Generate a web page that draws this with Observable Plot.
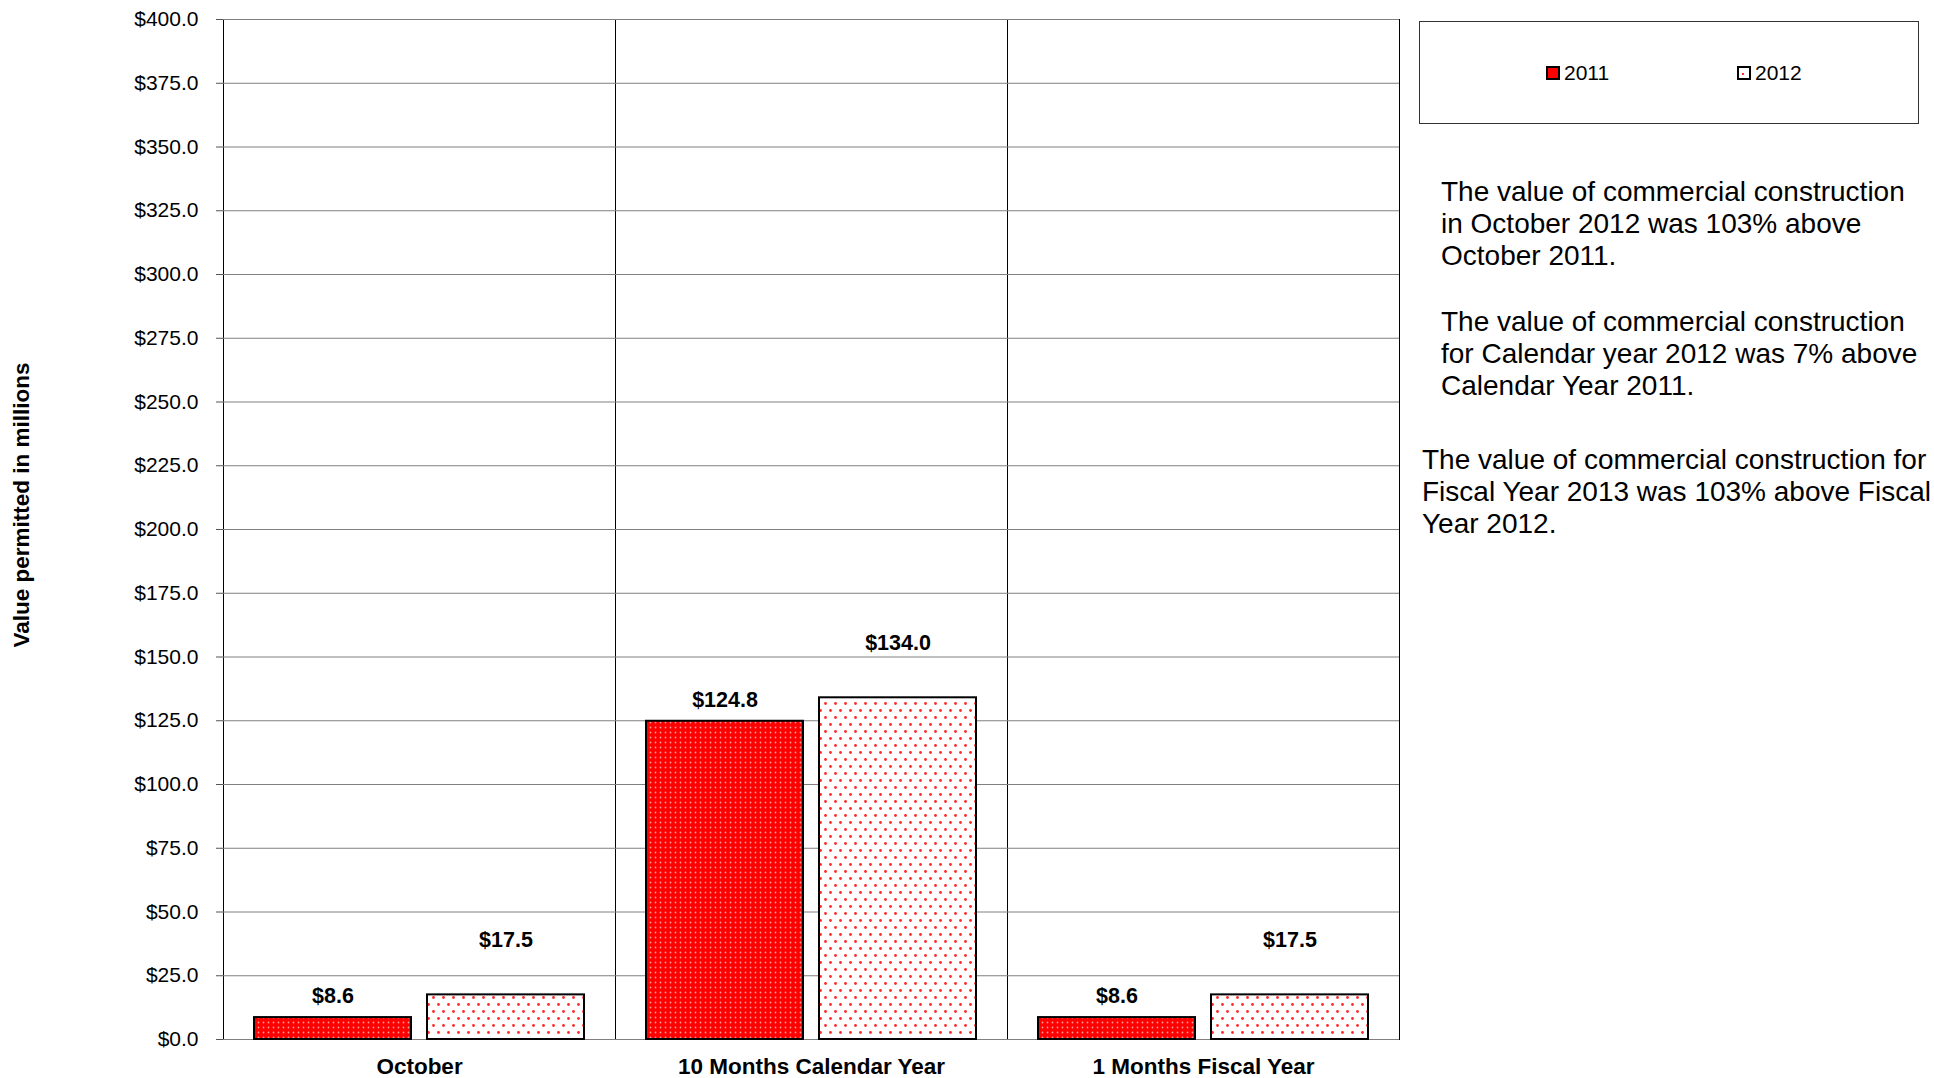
<!DOCTYPE html>
<html>
<head>
<meta charset="utf-8">
<script src="https://cdn.jsdelivr.net/npm/d3@7"></script>
<script src="https://cdn.jsdelivr.net/npm/@observablehq/plot@0.6"></script>
<style>
  body { margin: 0; background: #fff; font-family: "Liberation Sans", Arial, sans-serif; }
  #wrap { position: relative; width: 1934px; height: 1078px; overflow: hidden; }
  #chart { position: absolute; left: 0; top: 0; }
  #legend { position: absolute; left: 1419px; top: 21px; width: 498px; height: 101px; border: 1px solid #333; background: #fff; }
  .item { position: absolute; top: 38px; font-size: 21px; line-height: 26px; color: #000; display: flex; align-items: center; }
  .sw { width: 10px; height: 10px; border: 2px solid #000; margin-right: 4px; }
  .note { position: absolute; font-size: 28px; line-height: 32px; color: #000; white-space: nowrap; }
  #ylabel { position: absolute; left: 22px; top: 505px; transform: translate(-50%, -50%) rotate(-90deg); white-space: nowrap; font-size: 22.5px; font-weight: bold; color: #000; }
</style>
</head>
<body>
<div id="wrap">
  <div id="chart"></div>
  <div id="legend"></div>
  <div id="ylabel"></div>
</div>
<script>
// ---- data ----
const categories = ["October", "10 Months Calendar Year", "1 Months Fiscal Year"];
const years = ["2011", "2012"];
const values2011 = [8.6, 124.8, 8.6];
const values2012 = [17.5, 134.0, 17.5];
const yTicks = [0, 25, 50, 75, 100, 125, 150, 175, 200, 225, 250, 275, 300, 325, 350, 375, 400];
const yLabel = "Value permitted in millions";
const notes = [
  ["The value of commercial construction", "in October 2012 was 103% above", "October 2011."],
  ["The value of commercial construction", "for Calendar year 2012 was 7% above", "Calendar Year 2011."],
  ["The value of commercial construction for", "Fiscal Year 2013 was 103% above Fiscal", "Year 2012."]
];

const rows2011 = categories.map((c, i) => ({cat: c, year: years[0], value: values2011[i]}));
const rows2012 = categories.map((c, i) => ({cat: c, year: years[1], value: values2012[i]}));
const fmt = v => "$" + v.toFixed(1);

const chart = Plot.plot({
  width: 1410,
  height: 1078,
  marginLeft: 222,
  marginRight: 11,
  marginTop: 19,
  marginBottom: 39,
  style: {fontFamily: "'Liberation Sans', Arial, sans-serif", background: "white", color: "#000"},
  fx: {domain: categories, padding: 0, label: null},
  x: {domain: years, paddingInner: 0.0925, paddingOuter: 0.179, axis: null},
  y: {domain: [0, 400], label: null},
  marks: [
    Plot.frame({stroke: "#000", strokeWidth: 1}),
    Plot.ruleY(yTicks, {stroke: "#808080", strokeWidth: 1}),
    Plot.axisY({ticks: yTicks, tickFormat: fmt, tickSize: 7, tickPadding: 18, fontSize: 21, stroke: "#555", label: null}),
    Plot.axisFx({anchor: "bottom", tickSize: 0, tickPadding: 19, fontSize: 22.5, fontWeight: "bold", label: null}),
    Plot.barY(rows2011, {fx: "cat", x: "year", y: "value", fill: "url(#p2011)", stroke: "#000", strokeWidth: 2}),
    Plot.barY(rows2012, {fx: "cat", x: "year", y: "value", fill: "url(#p2012)", stroke: "#000", strokeWidth: 2}),
    Plot.text(rows2011, {fx: "cat", x: "year", y: "value", text: d => fmt(d.value), dy: -21, fontSize: 21.5, fontWeight: "bold", fill: "#000"}),
    Plot.text(rows2012, {fx: "cat", x: "year", y: "value", text: d => fmt(d.value), dy: -55, fontSize: 21.5, fontWeight: "bold", fill: "#000"})
  ]
});

// patterns
const ns = "http://www.w3.org/2000/svg";
const defs = document.createElementNS(ns, "defs");
defs.innerHTML = `
  <pattern id="p2011" patternUnits="userSpaceOnUse" width="5" height="5">
    <rect width="5" height="5" fill="#ff0000"/>
    <circle cx="2.5" cy="2.5" r="0.9" fill="#ff9a9a"/>
  </pattern>
  <pattern id="p2012" patternUnits="userSpaceOnUse" width="10" height="14">
    <rect width="10" height="14" fill="#ffffff"/>
    <circle cx="2.5" cy="3.5" r="1.4" fill="#ff2a2a"/>
    <circle cx="7.5" cy="10.5" r="1.4" fill="#ff2a2a"/>
  </pattern>`;
chart.insertBefore(defs, chart.firstChild);
document.getElementById("chart").appendChild(chart);

document.getElementById("ylabel").textContent = yLabel;

// legend
const legend = document.getElementById("legend");
const swFill = {"2011": "#ff0000", "2012": "#ffffff"};
const legendLeft = [126, 317];
years.forEach((y, i) => {
  const it = document.createElement("div");
  it.className = "item";
  it.style.left = legendLeft[i] + "px";
  const sw = document.createElement("div");
  sw.className = "sw";
  sw.style.background = swFill[y];
  if (y === "2012") sw.style.backgroundImage = "radial-gradient(circle at 40% 60%, #ff2a2a 1px, transparent 1.5px)";
  it.appendChild(sw);
  const t = document.createElement("span");
  t.textContent = y;
  it.appendChild(t);
  legend.appendChild(it);
});

// notes
const notePos = [[1441, 176], [1441, 306], [1422, 444]];
const wrap = document.getElementById("wrap");
notes.forEach((lines, i) => {
  const d = document.createElement("div");
  d.className = "note";
  d.style.left = notePos[i][0] + "px";
  d.style.top = notePos[i][1] + "px";
  lines.forEach((ln, j) => {
    if (j) d.appendChild(document.createElement("br"));
    d.appendChild(document.createTextNode(ln));
  });
  wrap.appendChild(d);
});
</script>
</body>
</html>
